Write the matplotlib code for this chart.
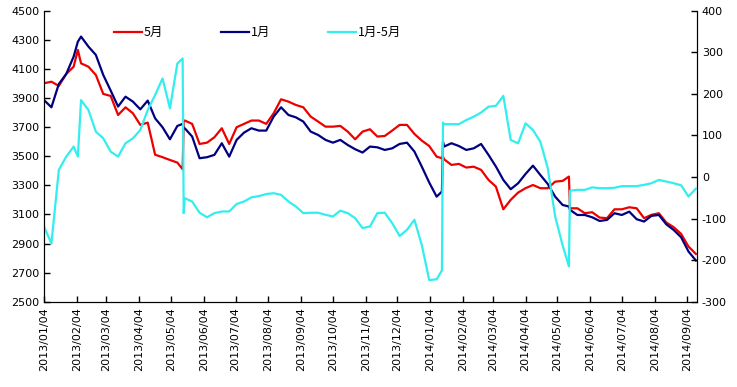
import numpy as np
import pandas as pd
import matplotlib
matplotlib.use("Agg")
import matplotlib.pyplot as plt

plt.rcParams['font.family'] = ['DejaVu Sans', 'Noto Sans CJK SC']
plt.rcParams['axes.unicode_minus'] = False

# weekly (Friday) readings plus a few extra days around the contract roll jumps
weekly = pd.date_range("2013-01-04", "2014-09-12", freq="7D")
extra = pd.to_datetime(["2013-02-05", "2013-05-15", "2013-05-16",
                        "2014-01-15", "2014-01-16", "2014-05-15"])
dates = weekly.union(extra)

may = [4001, 4012, 3983, 4065, 4115, 4230, 4138, 4115, 4058, 3928,
       3914, 3783, 3836, 3795, 3715, 3731, 3510, 3493, 3474, 3456,
       3410, 3745, 3745, 3722, 3584, 3593, 3630, 3692, 3584, 3699,
       3722, 3745, 3745, 3722, 3795, 3891, 3875, 3852, 3836, 3772,
       3738, 3703, 3703, 3708, 3669, 3616, 3669, 3685, 3635, 3639,
       3676, 3715, 3715, 3653, 3607, 3570, 3497, 3486, 3497, 3479,
       3440, 3447, 3422, 3428, 3406, 3337, 3291, 3135, 3200, 3250,
       3280, 3302, 3280, 3280, 3325, 3330, 3360, 3142, 3142, 3108,
       3115, 3078, 3074, 3135, 3135, 3149, 3142, 3074, 3097, 3108,
       3044, 3012, 2966, 2879, 2828]

jan = [3886, 3836, 3996, 4065, 4184, 4287, 4322, 4253, 4196, 4058,
       3951, 3841, 3909, 3875, 3822, 3882, 3760, 3699, 3616, 3708,
       3722, 3692, 3692, 3635, 3486, 3493, 3509, 3589, 3497, 3612,
       3662, 3692, 3676, 3676, 3772, 3836, 3783, 3767, 3738, 3669,
       3646, 3612, 3593, 3612, 3577, 3548, 3525, 3566, 3561, 3543,
       3554, 3584, 3593, 3532, 3428, 3319, 3222, 3257, 3600, 3566,
       3589, 3570, 3543, 3554, 3584, 3509, 3429, 3337, 3273, 3314,
       3378, 3435, 3371, 3309, 3222, 3165, 3154, 3131, 3096, 3096,
       3080, 3055, 3062, 3108, 3096, 3119, 3067, 3051, 3090, 3096,
       3032, 2993, 2943, 2845, 2783]

spread = [-119, -160, 17, 49, 73, 49, 185, 161, 109, 93,
          61, 49, 81, 93, 113, 161, 197, 237, 165, 273,
          285, -87, -51, -59, -86, -97, -87, -83, -83, -65,
          -59, -49, -46, -41, -39, -43, -59, -71, -87, -86,
          -86, -91, -95, -81, -87, -99, -123, -119, -87, -86,
          -111, -142, -127, -103, -164, -248, -246, -225, 131, 127,
          127, 127, 137, 145, 155, 169, 171, 195, 89, 81,
          129, 113, 85, 21, -95, -164, -215, -33, -31, -31,
          -25, -27, -27, -26, -22, -22, -22, -19, -15, -7,
          -11, -15, -20, -47, -28]

labels = ["5月", "1月", "1月-5月"]

fig = plt.figure(figsize=(7.37, 3.87), dpi=100)
ax = fig.add_axes([0.0597, 0.2204, 0.8860, 0.7520])
ax2 = ax.twinx()

l1, = ax.plot(dates, may, color="#EE0000", lw=1.6)
l2, = ax.plot(dates, jan, color="#000080", lw=1.6)
l3, = ax2.plot(dates, spread, color="#33EEEE", lw=1.6)

ax.set_xlim(pd.Timestamp("2013-01-04"), pd.Timestamp("2014-09-13"))
ax.set_ylim(2500, 4500)
ax.set_yticks(np.arange(2500, 4501, 200))
ax2.set_ylim(-300, 400)
ax2.set_yticks(np.arange(-300, 401, 100))

xt = pd.date_range("2013-01-04", "2014-09-04", freq=pd.DateOffset(months=1))
ax.set_xticks(xt)
ax.set_xticklabels([d.strftime("%Y/%m/%d") for d in xt], rotation=90)

for a in (ax, ax2):
    a.spines["top"].set_visible(False)
    a.tick_params(direction="in", length=4, width=1, labelsize=8, colors="black")
ax.tick_params(axis="x", pad=4)

leg = ax2.legend([l1, l2, l3], labels, loc="upper left", bbox_to_anchor=(0.09, 0.985),
                 ncol=3, frameon=False, handlelength=2.2, handletextpad=0.2,
                 columnspacing=4.6, prop={"family": ["Noto Sans CJK SC", "DejaVu Sans"], "size": 9})

fig.savefig("out.png", dpi=100)
